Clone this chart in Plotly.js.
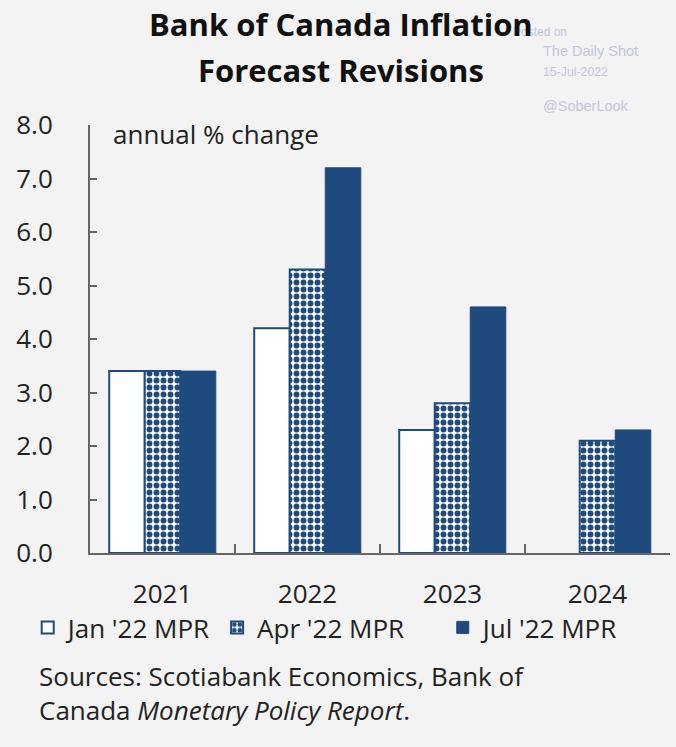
<!DOCTYPE html>
<html>
<head>
<meta charset="utf-8">
<script src="https://cdn.plot.ly/plotly-3.0.1.min.js"></script>
<style>
html,body{margin:0;padding:0;background:#f2f3f2;}
#chart{width:676px;height:747px;outline:1px solid #c4c4c4;outline-offset:-1px;}
</style>
</head>
<body>
<div id="chart"></div>
<script>
const years = ['2021', '2022', '2023', '2024'];
const janMPR = [3.4, 4.2, 2.3, null];
const aprMPR = [3.4, 5.3, 2.8, 2.1];
const julMPR = [3.4, 7.2, 4.6, 2.3];
const seriesNames = ["Jan '22 MPR", "Apr '22 MPR", "Jul '22 MPR"];
const yTicks = [0, 1, 2, 3, 4, 5, 6, 7, 8];

const navy = '#1f4a7d';
const font = 'Open Sans, Noto Sans, sans-serif';
const fs = 26;
const wm = {family: 'Liberation Sans, Arial', color: '#c3c6dc'};

const traces = [
  {type: 'bar', x: years, y: janMPR, name: seriesNames[0], legend: 'legend',
   marker: {color: '#ffffff', line: {color: navy, width: 2}}},
  {type: 'bar', x: years, y: aprMPR, name: seriesNames[1], legend: 'legend',
   marker: {color: '#ffffff', line: {color: navy, width: 2},
            pattern: {shape: '.', fgcolor: navy, bgcolor: '#ffffff', size: 7, solidity: 0.55}}},
  {type: 'bar', x: years, y: julMPR, name: seriesNames[2], legend: 'legend2',
   marker: {color: navy, line: {color: navy, width: 1}}}
];

const legendBase = {orientation: 'h', xref: 'container', yref: 'container',
  xanchor: 'left', yanchor: 'middle', font: {size: fs, color: '#222'},
  bgcolor: 'rgba(0,0,0,0)', itemwidth: 30, traceorder: 'normal'};

const layout = {
  width: 676, height: 747,
  paper_bgcolor: '#f2f3f2', plot_bgcolor: '#f2f3f2',
  margin: {l: 90, r: 6, t: 125, b: 194},
  font: {family: font, color: '#222', size: fs},
  barmode: 'group', bargap: 0.265, bargroupgap: 0,
  showlegend: true,
  xaxis: {type: 'category', showline: true, linecolor: '#666', linewidth: 2,
          ticks: 'inside', tickson: 'boundaries', ticklen: 9, tickcolor: '#666', tickwidth: 2,
          ticklabelstandoff: 17,
          tickfont: {size: fs, color: '#222'}, showgrid: false, zeroline: false},
  yaxis: {range: [0, 8], tickvals: yTicks, tickformat: '.1f', showline: true,
          linecolor: '#666', linewidth: 2, ticks: 'inside', ticklen: 7, tickcolor: '#666',
          tickwidth: 2, showgrid: false, zeroline: false, ticklabelstandoff: 30,
          tickfont: {size: fs, color: '#222'}},
  legend: Object.assign({}, legendBase, {x: 0.041, y: 0.16}),
  legend2: Object.assign({}, legendBase, {x: 0.655, y: 0.16}),
  annotations: [
    {text: 'Posted on', xref: 'paper', yref: 'paper', x: 0.725, y: 1.218, xanchor: 'left',
     yanchor: 'middle', showarrow: false, font: Object.assign({size: 12}, wm)},
    {text: 'The Daily Shot', xref: 'paper', yref: 'paper', x: 0.777, y: 1.173, xanchor: 'left',
     yanchor: 'middle', showarrow: false, font: Object.assign({size: 14.5}, wm)},
    {text: '15-Jul-2022', xref: 'paper', yref: 'paper', x: 0.777, y: 1.124, xanchor: 'left',
     yanchor: 'middle', showarrow: false, font: Object.assign({size: 12.3}, wm)},
    {text: '@SoberLook', xref: 'paper', yref: 'paper', x: 0.777, y: 1.045, xanchor: 'left',
     yanchor: 'middle', showarrow: false, font: Object.assign({size: 14.5}, wm)},
    {text: '<b>Bank of Canada Inflation</b>', xref: 'paper', yref: 'paper', x: 0.432, y: 1.236,
     xanchor: 'center', yanchor: 'middle', showarrow: false, font: {size: 31, color: '#111'}},
    {text: '<b>Forecast Revisions</b>', xref: 'paper', yref: 'paper', x: 0.432, y: 1.129,
     xanchor: 'center', yanchor: 'middle', showarrow: false, font: {size: 31, color: '#111'}},
    {text: 'annual % change', xref: 'paper', yref: 'paper', x: 0.036, y: 0.978,
     xanchor: 'left', yanchor: 'middle', showarrow: false, font: {size: fs, color: '#222'}},
    {text: 'Sources: Scotiabank Economics, Bank of<br>Canada <i>Monetary Policy Report</i>.',
     xref: 'paper', yref: 'paper', x: -0.092, y: -0.24, xanchor: 'left', yanchor: 'top',
     align: 'left', showarrow: false, font: {size: fs, color: '#222'}}
  ]
};

Plotly.newPlot('chart', traces, layout, {displayModeBar: false, staticPlot: true});
</script>
</body>
</html>
